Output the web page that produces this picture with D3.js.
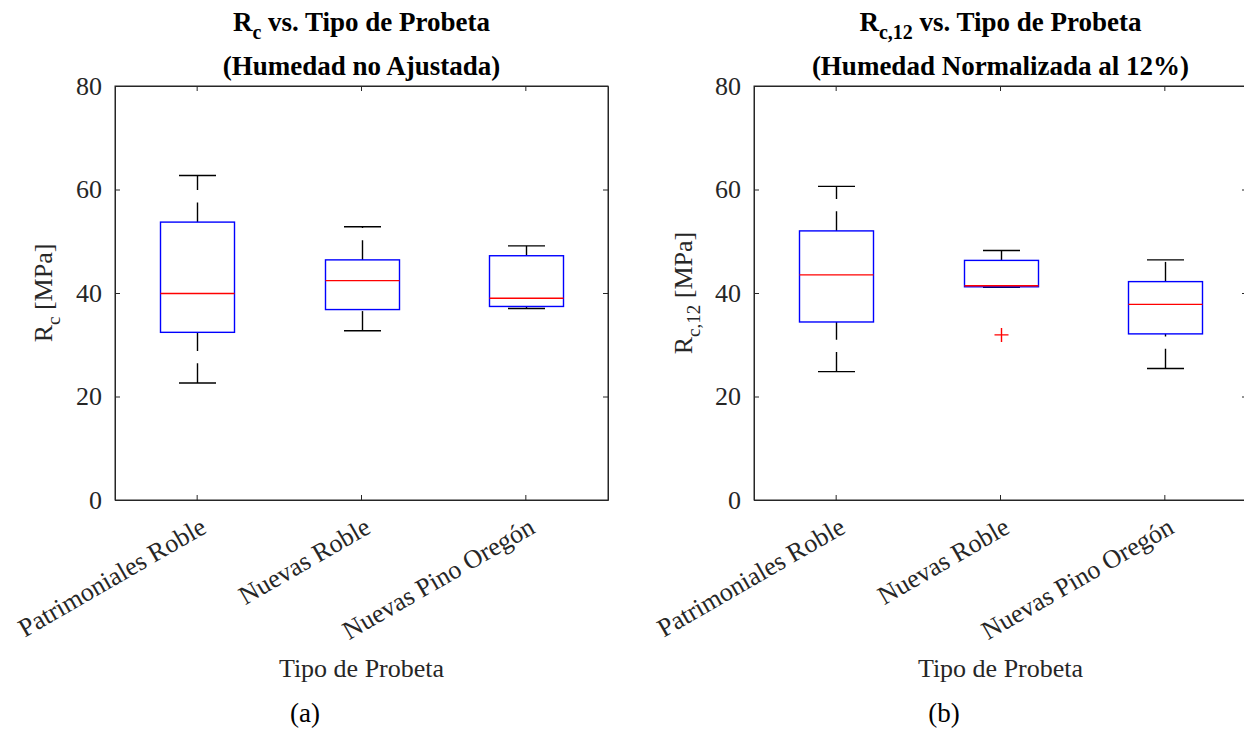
<!DOCTYPE html>
<html>
<head>
<meta charset="utf-8">
<script src="https://cdn.jsdelivr.net/npm/d3@7"></script>
<style>
  body { margin: 0; background: #fff; }
  svg { display: block; font-family: "Liberation Serif", "Times New Roman", serif; }
</style>
</head>
<body>
<div id="chart"></div>
<script>
// categories shared by both panels
const categories = ["Patrimoniales Roble", "Nuevas Roble", "Nuevas Pino Oregón"];
const yTicks = [0, 20, 40, 60, 80];

// (a) R_c, humedad no ajustada  [MPa]
const rcLow = [22.6, 32.7, 37.0];
const rcQ1 = [32.4, 36.8, 37.4];
const rcMed = [39.9, 42.4, 39.0];
const rcQ3 = [53.7, 46.4, 47.2];
const rcHigh = [62.7, 52.8, 49.1];
const rcOutliers = [[], [], []];

// (b) R_c,12, humedad normalizada al 12%  [MPa]
const rc12Low = [24.8, 41.1, 25.4];
const rc12Q1 = [34.4, 41.2, 32.1];
const rc12Med = [43.5, 41.4, 37.8];
const rc12Q3 = [52.0, 46.3, 42.2];
const rc12High = [60.6, 48.2, 46.4];
const rc12Outliers = [[], [31.9], []];

const W = 1244, H = 729;
const plotTop = 86, plotBottom = 500;
const axisColor = "#262626";
const font = "26px";
const lw = 1.4;

const svg = d3.select("#chart").append("svg")
  .attr("width", W)
  .attr("height", H);

function buildRows(low, q1, med, q3, high, outl) {
  return categories.map((c, i) => ({
    cat: c, low: low[i], q1: q1[i], med: med[i], q3: q3[i], high: high[i], out: outl[i]
  }));
}

function drawPanel(opts) {
  const x = d3.scaleBand().domain(categories).range([opts.left, opts.right]).padding(0);
  const y = d3.scaleLinear().domain([0, 80]).range([plotBottom, plotTop]);
  const bw = x.bandwidth();
  const boxW = Math.round(bw * 0.45);
  const capW = Math.round(boxW / 2);
  const cx = d => Math.round(x(d.cat) + bw / 2) + 0.5;

  const g = svg.append("g");

  // frame (box on)
  g.append("rect")
    .attr("x", opts.left).attr("y", plotTop)
    .attr("width", opts.right - opts.left).attr("height", plotBottom - plotTop)
    .attr("fill", "none").attr("stroke", axisColor).attr("stroke-width", 1);

  // left axis
  const yAxis = g.append("g")
    .attr("transform", "translate(" + opts.left + ",0)")
    .call(d3.axisLeft(y).tickValues(yTicks).tickSizeInner(-5).tickSizeOuter(0).tickPadding(13));
  yAxis.select(".domain").attr("stroke", axisColor);
  yAxis.selectAll("line").attr("stroke", axisColor);
  yAxis.selectAll("text").attr("fill", axisColor).style("font-size", font)
    .style("font-family", "Liberation Serif");

  // right axis ticks
  const yRight = g.append("g")
    .attr("transform", "translate(" + opts.right + ",0)")
    .call(d3.axisRight(y).tickValues(yTicks).tickSizeInner(-5).tickSizeOuter(0).tickFormat(""));
  yRight.select(".domain").attr("stroke", axisColor);
  yRight.selectAll("line").attr("stroke", axisColor);

  // top axis ticks
  const xTop = g.append("g")
    .attr("transform", "translate(0," + plotTop + ")")
    .call(d3.axisTop(x).tickSizeInner(-5).tickSizeOuter(0).tickFormat(""));
  xTop.select(".domain").attr("stroke", axisColor);
  xTop.selectAll("line").attr("stroke", axisColor);

  // bottom axis
  const xAxis = g.append("g")
    .attr("transform", "translate(0," + plotBottom + ")")
    .call(d3.axisBottom(x).tickSizeInner(-5).tickSizeOuter(0));
  xAxis.select(".domain").attr("stroke", axisColor);
  xAxis.selectAll("line").attr("stroke", axisColor);
  xAxis.selectAll("text")
    .attr("fill", axisColor)
    .style("font-size", font)
    .style("font-family", "Liberation Serif")
    .attr("text-anchor", "end")
    .attr("y", 0).attr("dy", "0.75em")
    .attr("transform", "translate(1,15) rotate(-30)");

  const rows = buildRows(...opts.data);
  const boxes = g.selectAll("g.box").data(rows).enter().append("g").attr("class", "box");

  // whiskers, dashed, drawn from the lower value upwards
  boxes.append("line")
    .attr("x1", cx).attr("x2", cx)
    .attr("y1", d => y(d.low)).attr("y2", d => y(d.q1))
    .attr("stroke", "#000").attr("stroke-width", lw)
    .attr("stroke-dasharray", "19.7,12.3");
  boxes.append("line")
    .attr("x1", cx).attr("x2", cx)
    .attr("y1", d => y(d.q3)).attr("y2", d => y(d.high))
    .attr("stroke", "#000").attr("stroke-width", lw)
    .attr("stroke-dasharray", "19.7,12.3");

  // caps
  boxes.append("line")
    .attr("x1", d => cx(d) - capW / 2).attr("x2", d => cx(d) + capW / 2)
    .attr("y1", d => y(d.high)).attr("y2", d => y(d.high))
    .attr("stroke", "#000").attr("stroke-width", lw);
  boxes.append("line")
    .attr("x1", d => cx(d) - capW / 2).attr("x2", d => cx(d) + capW / 2)
    .attr("y1", d => y(d.low)).attr("y2", d => y(d.low))
    .attr("stroke", "#000").attr("stroke-width", lw);

  // boxes
  boxes.append("rect")
    .attr("x", d => cx(d) - boxW / 2)
    .attr("y", d => y(d.q3))
    .attr("width", boxW)
    .attr("height", d => y(d.q1) - y(d.q3))
    .attr("fill", "none").attr("stroke", "#0000ff").attr("stroke-width", lw);

  // medians
  boxes.append("line")
    .attr("x1", d => cx(d) - boxW / 2).attr("x2", d => cx(d) + boxW / 2)
    .attr("y1", d => y(d.med)).attr("y2", d => y(d.med))
    .attr("stroke", "#ff0000").attr("stroke-width", lw);

  // outliers (+ markers)
  boxes.selectAll("path.out").data(d => d.out.map(v => ({ v: v, c: cx(d) }))).enter()
    .append("path").attr("class", "out")
    .attr("d", d => "M" + (d.c - 7) + "," + y(d.v) + "H" + (d.c + 7) +
                    "M" + d.c + "," + (y(d.v) - 7) + "V" + (y(d.v) + 7))
    .attr("stroke", "#ff0000").attr("stroke-width", lw).attr("fill", "none");

  const mid = (opts.left + opts.right) / 2;

  // title, two lines
  const t1 = svg.append("text")
    .attr("x", mid).attr("y", 31)
    .attr("text-anchor", "middle")
    .style("font-size", "27px").style("font-weight", "bold").attr("fill", "#000");
  t1.append("tspan").text("R");
  t1.append("tspan").text(opts.sub).attr("dy", 8).style("font-size", "20px");
  t1.append("tspan").text(" vs. Tipo de Probeta").attr("dy", -8);

  svg.append("text")
    .attr("x", mid).attr("y", 75)
    .attr("text-anchor", "middle")
    .style("font-size", "27px").style("font-weight", "bold").attr("fill", "#000")
    .text(opts.title2);

  // y label
  const yl = svg.append("text")
    .attr("transform", "translate(" + opts.ylabX + "," + y(40) + ") rotate(-90)")
    .attr("text-anchor", "middle")
    .style("font-size", font).attr("fill", axisColor);
  yl.append("tspan").text("R");
  yl.append("tspan").text(opts.sub).attr("dy", 8).style("font-size", "19px");
  yl.append("tspan").text(" [MPa]").attr("dy", -8);

  // x label
  svg.append("text")
    .attr("x", mid).attr("y", 677)
    .attr("text-anchor", "middle")
    .style("font-size", font).attr("fill", axisColor)
    .text("Tipo de Probeta");

  // panel caption
  svg.append("text")
    .attr("x", opts.capX).attr("y", 722)
    .attr("text-anchor", "middle")
    .style("font-size", "27px").attr("fill", "#000")
    .text(opts.caption);
}

drawPanel({
  left: 115, right: 608, ylabX: 52, capX: 305, sub: "c",
  title2: "(Humedad no Ajustada)", caption: "(a)",
  data: [rcLow, rcQ1, rcMed, rcQ3, rcHigh, rcOutliers]
});

drawPanel({
  left: 754, right: 1247, ylabX: 692, capX: 944, sub: "c,12",
  title2: "(Humedad Normalizada al 12%)", caption: "(b)",
  data: [rc12Low, rc12Q1, rc12Med, rc12Q3, rc12High, rc12Outliers]
});
</script>
</body>
</html>
